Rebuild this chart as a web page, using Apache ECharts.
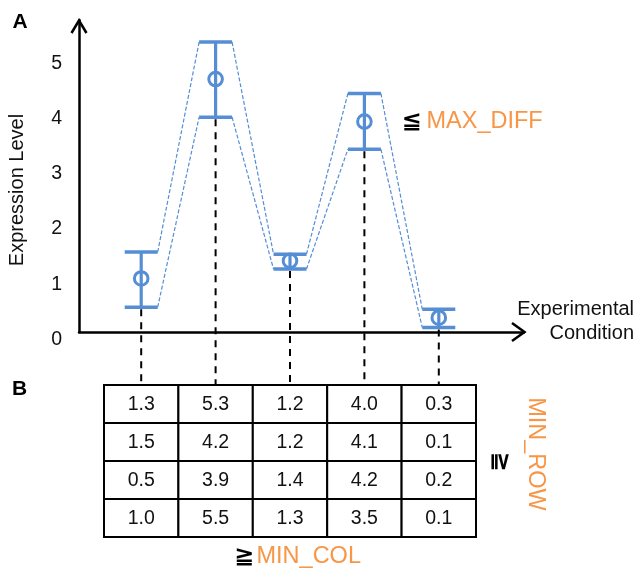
<!DOCTYPE html>
<html>
<head>
<meta charset="utf-8">
<script src="https://cdn.jsdelivr.net/npm/echarts@6/dist/echarts.min.js"></script>
<style>html,body{margin:0;padding:0;background:#fff}#c{width:636px;height:571px}</style>
</head>
<body>
<div id="c"></div>
<script>
// ---- data ----
const conditions = ['C1', 'C2', 'C3', 'C4', 'C5'];
const meanLevel  = [0.97, 4.58, 1.29, 3.81, 0.26];
const upperLevel = [1.45, 5.25, 1.41, 4.32, 0.41];
const lowerLevel = [0.45, 3.89, 1.14, 3.31, 0.08];
const replicates = ['Rep 1', 'Rep 2', 'Rep 3', 'Rep 4'];
const replicate1 = [1.3, 5.3, 1.2, 4.0, 0.3];
const replicate2 = [1.5, 4.2, 1.2, 4.1, 0.1];
const replicate3 = [0.5, 3.9, 1.4, 4.2, 0.2];
const replicate4 = [1.0, 5.5, 1.3, 3.5, 0.1];
const yTicks = [0, 1, 2, 3, 4, 5];

// ---- layout / style ----
const BLUE = '#558ED5';
const ORANGE = '#F79646';
const FONT = '"Liberation Sans", Arial, Helvetica, sans-serif';
const PLOT = { left: 79, top: 20, right: 524, bottom: 332 };
const TABLE = { left: 104, top: 385, width: 372, height: 152 };
const colW = TABLE.width / conditions.length;
const xMin = -((TABLE.left + colW / 2) - PLOT.left) / colW;
const xMax = xMin + (PLOT.right - PLOT.left) / colW;
const CAP = 16.5;

const tableRows = [replicate1, replicate2, replicate3, replicate4];
const tableData = [];
tableRows.forEach((row, r) => row.forEach((v, c) => tableData.push([c, r, v])));

const chart = echarts.init(document.getElementById('c'), null, { renderer: 'canvas' });

function renderErr(params, api) {
  const i = api.value(0);
  const pLo = api.coord([i, api.value(1)]);
  const pHi = api.coord([i, api.value(2)]);
  const pMid = api.coord([i, api.value(3)]);
  const x = pHi[0];
  const children = [];
  children.push({
    type: 'line', z2: 1,
    shape: { x1: x, y1: pLo[1] + 2, x2: x, y2: TABLE.top },
    style: { stroke: '#000', lineWidth: 2, lineDash: [7, 6] }
  });
  if (i < conditions.length - 1) {
    const nHi = api.coord([i + 1, upperLevel[i + 1]]);
    const nLo = api.coord([i + 1, lowerLevel[i + 1]]);
    children.push({
      type: 'line', z2: 2,
      shape: { x1: x + CAP, y1: pHi[1], x2: nHi[0] - CAP, y2: nHi[1] },
      style: { stroke: BLUE, lineWidth: 1.2, lineDash: [4, 2] }
    });
    children.push({
      type: 'line', z2: 2,
      shape: { x1: x + CAP, y1: pLo[1], x2: nLo[0] - CAP, y2: nLo[1] },
      style: { stroke: BLUE, lineWidth: 1.2, lineDash: [4, 2] }
    });
  }
  children.push({
    type: 'line', z2: 3,
    shape: { x1: x, y1: pHi[1], x2: x, y2: pLo[1] },
    style: { stroke: BLUE, lineWidth: 3.2 }
  });
  children.push({
    type: 'line', z2: 3,
    shape: { x1: x - CAP, y1: pHi[1], x2: x + CAP, y2: pHi[1] },
    style: { stroke: BLUE, lineWidth: 3.5 }
  });
  children.push({
    type: 'line', z2: 3,
    shape: { x1: x - CAP, y1: pLo[1], x2: x + CAP, y2: pLo[1] },
    style: { stroke: BLUE, lineWidth: 3.5 }
  });
  children.push({
    type: 'circle', z2: 4,
    shape: { cx: x, cy: pMid[1], r: 6.8 },
    style: { stroke: BLUE, lineWidth: 3, fill: null }
  });
  return { type: 'group', children: children };
}

function renderCell(params, api) {
  const p = api.coord([api.value(0), api.value(1)]);
  const s = api.size([1, 1]);
  return {
    type: 'group',
    children: [
      {
        type: 'rect',
        shape: { x: p[0] - s[0] / 2, y: p[1] - s[1] / 2, width: s[0], height: s[1] },
        style: { fill: '#fff', stroke: '#000', lineWidth: 2 }
      },
      {
        type: 'text',
        x: p[0], y: p[1] + 1,
        style: {
          text: api.value(2).toFixed(1),
          fill: '#111', fontSize: 19.5, fontFamily: FONT,
          align: 'center', verticalAlign: 'middle'
        }
      }
    ]
  };
}

const option = {
  animation: false,
  backgroundColor: '#fff',
  grid: [
    { left: PLOT.left, top: PLOT.top, width: PLOT.right - PLOT.left, height: PLOT.bottom - PLOT.top,
      containLabel: false, outerBoundsMode: 'none' },
    { left: TABLE.left, top: TABLE.top, width: TABLE.width, height: TABLE.height,
      containLabel: false, outerBoundsMode: 'none' }
  ],
  xAxis: [
    {
      type: 'value', gridIndex: 0, min: xMin, max: xMax,
      axisLine: { show: true, onZero: false, lineStyle: { color: '#000', width: 2.5 } },
      axisTick: { show: false }, axisLabel: { show: false }, splitLine: { show: false }
    },
    {
      type: 'category', gridIndex: 1, data: conditions,
      axisLine: { show: false }, axisTick: { show: false }, axisLabel: { show: false }, splitLine: { show: false }
    }
  ],
  yAxis: [
    {
      type: 'value', gridIndex: 0, min: 0, max: 5.65, interval: 1,
      axisLine: { show: true, onZero: false, lineStyle: { color: '#000', width: 2.5 } },
      axisTick: { show: false }, splitLine: { show: false },
      axisLabel: {
        color: '#111', fontSize: 19.5, fontFamily: FONT, margin: 17,
        verticalAlign: 'top', lineHeight: 15,
        formatter: v => (yTicks.indexOf(v) >= 0 ? String(v) : '')
      }
    },
    {
      type: 'category', gridIndex: 1, data: replicates, inverse: true,
      axisLine: { show: false }, axisTick: { show: false }, axisLabel: { show: false }, splitLine: { show: false }
    }
  ],
  series: [
    {
      type: 'custom', xAxisIndex: 0, yAxisIndex: 0, clip: false,
      renderItem: renderErr,
      encode: { x: 0, y: [1, 2, 3] },
      data: conditions.map((c, i) => [i, lowerLevel[i], upperLevel[i], meanLevel[i]])
    },
    {
      type: 'custom', xAxisIndex: 1, yAxisIndex: 1, clip: false, z: 1,
      renderItem: renderCell,
      encode: { x: 0, y: 1 },
      data: tableData
    }
  ],
  graphic: [
    { type: 'polyline', shape: { points: [[71.5, 33], [79, 20.5], [86.5, 33]] },
      style: { stroke: '#000', lineWidth: 2.5, fill: null } },
    { type: 'polyline', shape: { points: [[512, 323], [524.5, 332], [512, 341]] },
      style: { stroke: '#000', lineWidth: 2.5, fill: null } },
    { type: 'text', x: 12.5, y: 22,
      style: { text: 'A', fill: '#000', fontSize: 21, fontWeight: 'bold', fontFamily: FONT, align: 'left', verticalAlign: 'middle' } },
    { type: 'text', x: 12, y: 389,
      style: { text: 'B', fill: '#000', fontSize: 21, fontWeight: 'bold', fontFamily: FONT, align: 'left', verticalAlign: 'middle' } },
    { type: 'text', x: 17, y: 190, rotation: Math.PI / 2,
      style: { text: 'Expression Level', fill: '#111', fontSize: 20, fontFamily: FONT, align: 'center', verticalAlign: 'middle' } },
    { type: 'text', x: 634, y: 321,
      style: { text: 'Experimental\nCondition', fill: '#111', fontSize: 20, lineHeight: 24, fontFamily: FONT, align: 'right', verticalAlign: 'middle' } },
    { type: 'text', x: 411.5, y: 122,
      style: { text: '≦', fill: '#000', fontSize: 24, fontWeight: 'bold', fontFamily: '"DejaVu Sans", sans-serif', align: 'center', verticalAlign: 'middle' } },
    { type: 'text', x: 426.5, y: 122,
      style: { text: 'MAX_DIFF', fill: ORANGE, fontSize: 23.5, fontFamily: FONT, align: 'left', verticalAlign: 'middle' } },
    { type: 'text', x: 244, y: 557,
      style: { text: '≧', fill: '#000', fontSize: 24, fontWeight: 'bold', fontFamily: '"DejaVu Sans", sans-serif', align: 'center', verticalAlign: 'middle' } },
    { type: 'text', x: 256.5, y: 557,
      style: { text: 'MIN_COL', fill: ORANGE, fontSize: 23.5, fontFamily: FONT, align: 'left', verticalAlign: 'middle' } },
    { type: 'text', x: 500, y: 461.5, rotation: -Math.PI / 2,
      style: { text: '≧', fill: '#000', fontSize: 24, fontWeight: 'bold', fontFamily: '"DejaVu Sans", sans-serif', align: 'center', verticalAlign: 'middle' } },
    { type: 'text', x: 535.5, y: 454, rotation: -Math.PI / 2,
      style: { text: 'MIN_ROW', fill: ORANGE, fontSize: 23.5, fontFamily: FONT, align: 'center', verticalAlign: 'middle' } }
  ]
};
chart.setOption(option);
</script>
</body>
</html>
